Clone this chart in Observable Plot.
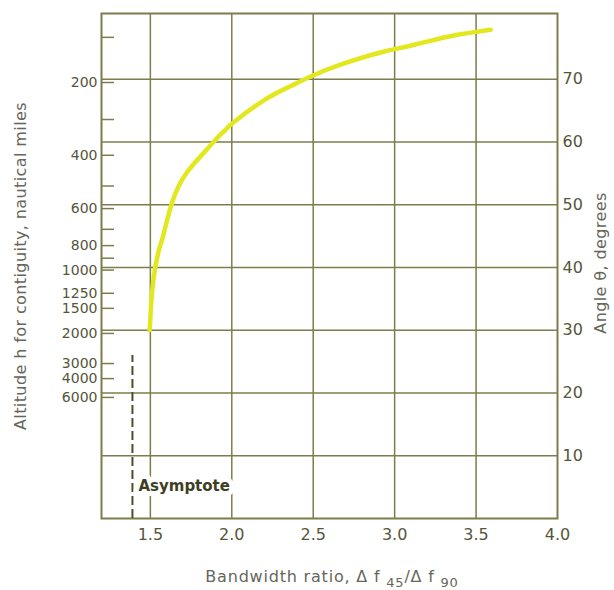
<!DOCTYPE html>
<html><head><meta charset="utf-8">
<script src="https://cdn.jsdelivr.net/npm/d3@7"></script>
<script src="https://cdn.jsdelivr.net/npm/@observablehq/plot@0.6"></script>
<style>body{margin:0;background:#fff;}</style>
</head><body><div id="chart"></div>
<script>
// Curve: bandwidth ratio vs angle θ (degrees)
const bandwidthRatio = [1.496, 1.51, 1.53, 1.555, 1.582, 1.635, 1.72, 1.839, 1.908, 1.963, 2.014, 2.2, 2.36, 2.47, 2.685, 2.93, 3.015, 3.18, 3.385, 3.508, 3.59];
const angleDeg      = [30.0, 36.0, 40.0, 43.0, 45.4, 50.5, 55.0, 58.6, 60.6, 62.0, 63.2, 66.7, 68.9, 70.3, 72.5, 74.4, 74.9, 75.9, 77.1, 77.6, 77.9];

// Axes
const xTicks = [1.5, 2.0, 2.5, 3.0, 3.5, 4.0];
const angleTicks = [10, 20, 30, 40, 50, 60, 70];
// Left axis: altitude labels, placed at the angle they correspond to
const altitudeTickAngles = [76.7, 69.5, 63.6, 57.9, 53.0, 49.4, 46.1, 43.5, 41.5, 39.6, 35.9, 33.5, 29.5, 24.7, 22.3, 19.3];
const altitudeTickLabels = ["", "200", "", "400", "", "600", "", "800", "", "1000", "1250", "1500", "2000", "3000", "4000", "6000"];

// Asymptote
const asymptoteRatio = 1.39;
const asymptoteTopAngle = 26;
const asymptoteLabelAngle = 5.2;

const gridColor = "#7d7d4c";
const textColor = "#55553a";
const titleColor = "#66665a";

const curve = bandwidthRatio.map((x, i) => ({x, y: angleDeg[i]}));
const labelByAngle = new Map(altitudeTickAngles.map((a, i) => [a, altitudeTickLabels[i]]));

const chart = Plot.plot({
  width: 614, height: 590,
  marginLeft: 101, marginRight: 57, marginTop: 13, marginBottom: 72,
  x: {domain: [1.2, 4.0]},
  y: {domain: [0, 80.5]},
  style: {fontFamily: "DejaVu Sans", fontSize: "16px", color: textColor, background: "white"},
  marks: [
    Plot.ruleX(xTicks.filter(d => d < 4), {stroke: gridColor, strokeWidth: 1.5}),
    Plot.ruleY(angleTicks, {stroke: gridColor, strokeWidth: 1.5}),
    Plot.tickY(altitudeTickAngles, {y: d => d, stroke: gridColor, strokeWidth: 1.5, insetRight: 443}),
    Plot.frame({stroke: gridColor, strokeWidth: 2}),
    Plot.ruleX([asymptoteRatio], {y1: 0, y2: asymptoteTopAngle, stroke: "#4e4e2c", strokeWidth: 2, strokeDasharray: "9,4"}),
    Plot.text(["Asymptote"], {x: asymptoteRatio, y: asymptoteLabelAngle, text: d => d, dx: 6, textAnchor: "start",
      fontWeight: "bold", fontSize: 15, fill: "#3e3e24", stroke: "white", strokeWidth: 10}),
    Plot.line(curve, {x: "x", y: "y", stroke: "#e3e81e", strokeWidth: 4.5, curve: "natural"}),
    Plot.axisX(xTicks, {tickSize: 0, tickPadding: 10, tickFormat: d3.format(".1f"), label: null}),
    Plot.axisY(angleTicks, {anchor: "right", tickSize: 0, tickPadding: 5, label: null}),
    Plot.axisY(altitudeTickAngles, {anchor: "left", tickSize: 0, tickPadding: 4, fontSize: 14, tickFormat: d => labelByAngle.get(d), label: null}),
    Plot.text(["Altitude h for contiguity, nautical miles"], {frameAnchor: "left", textAnchor: "middle", rotate: -90, dx: -81,
      fontSize: 16, fill: titleColor}),
    Plot.text(["Angle θ, degrees"], {frameAnchor: "right", textAnchor: "middle", rotate: -90, dx: 43, dy: -3,
      fontSize: 16, fill: titleColor})
  ]
});
document.getElementById("chart").appendChild(chart);

// letter spacing for the rotated titles
d3.select(chart).selectAll("text").filter(function() {
  const s = this.textContent;
  return s.startsWith("Altitude") || s.startsWith("Angle");
}).attr("letter-spacing", "0.4px");

// x-axis title with subscripts
const t = d3.select(chart).append("text")
  .attr("x", 332).attr("y", 582)
  .attr("text-anchor", "middle")
  .attr("font-family", "DejaVu Sans").attr("font-size", 16)
  .attr("letter-spacing", "0.8px")
  .attr("fill", titleColor);
t.append("tspan").text("Bandwidth ratio, Δ f ");
t.append("tspan").attr("dy", 5).attr("font-size", 13).text("45");
t.append("tspan").attr("dy", -5).text("/Δ f ");
t.append("tspan").attr("dy", 5).attr("font-size", 13).text("90");
</script>
</body></html>
